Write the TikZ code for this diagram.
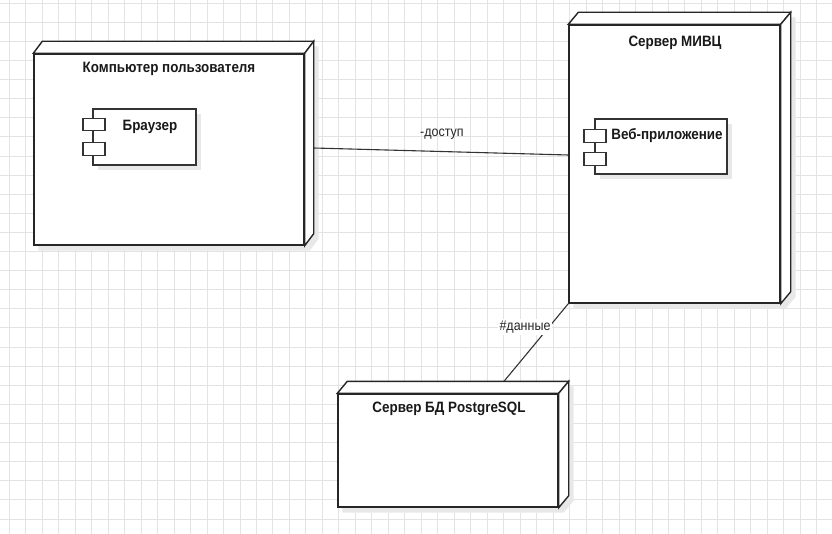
\documentclass[tikz,border=0pt]{standalone}
\usepackage{fontspec}
\setmainfont{Liberation Sans}
\usetikzlibrary{backgrounds,shadows}
\newcommand\talltext[1]{\scalebox{1}[1.12]{#1}}
\begin{document}
\begin{tikzpicture}[x=1pt,y=-1pt,
  gridline/.style={draw=black!11, line width=1pt},
  shadowfill/.style={fill=black!9},
  front/.style={draw=black!85, line width=1.4pt, fill=white, inner sep=0pt, rectangle, line join=miter},
  face/.style={draw=black!85, line width=1.4pt, fill=white, line join=miter},
  comp/.style={draw=black!80, line width=1.1pt, fill=white, inner sep=0pt, rectangle,
    drop shadow={shadow xshift=5pt, shadow yshift=-5pt, fill=black!9, opacity=1}},
  port/.style={draw=black!80, line width=1.1pt, fill=white, inner sep=0pt, rectangle, minimum width=22pt, minimum height=12.5pt},
  title/.style={font=\bfseries\fontsize{13.4}{16}\selectfont, inner sep=0pt, text=black!90},
  link/.style={draw=black!80, line width=1.1pt},
  linklabel/.style={font=\fontsize{12.5}{15}\selectfont, inner sep=1.5pt, text=black!85}
]
\useasboundingbox (0,0) rectangle (832,534);

% nodes (front faces)
\node[front, minimum width=270pt, minimum height=191pt] (pc) at (169,149.5) {};
\node[front, minimum width=211pt, minimum height=278pt] (srv) at (674.5,164) {};
\node[front, minimum width=220pt, minimum height=113pt] (db) at (448,450.5) {};

\begin{pgfonlayer}{background}
  \fill[white] (0,0) rectangle (832,534);
  \foreach \i in {0,...,49} \draw[gridline] ({9.3+16.48*\i},0) -- ({9.3+16.48*\i},534);
  \foreach \j in {0,...,27} \draw[gridline] (0,{3.3+19.1*\j}) -- (832,{3.3+19.1*\j});
  \foreach \n/\dx/\dy in {pc/9/12, srv/10/12, db/10/12} {
    \fill[shadowfill] ([shift={(5,5)}]\n.south west) -- ([shift={(5,5)}]\n.north west)
      -- ([shift={(5+\dx,5-\dy)}]\n.north west) -- ([shift={(5+\dx,5-\dy)}]\n.north east)
      -- ([shift={(5+\dx,5-\dy)}]\n.south east) -- ([shift={(5,5)}]\n.south east) -- cycle;
  }
\end{pgfonlayer}

% 3D faces
\foreach \n/\dx/\dy in {pc/9/12, srv/10/12, db/10/12} {
  \filldraw[face] (\n.north west) -- ([shift={(\dx,-\dy)}]\n.north west)
    -- ([shift={(\dx,-\dy)}]\n.north east) -- (\n.north east) -- cycle;
  \filldraw[face] (\n.north east) -- ([shift={(\dx,-\dy)}]\n.north east)
    -- ([shift={(\dx,-\dy)}]\n.south east) -- (\n.south east) -- cycle;
}

% titles
\node[title] (pc-title) at (169,69) {\talltext{Компьютер пользователя}};
\node[title] (srv-title) at (675,43) {\talltext{Сервер МИВЦ}};
\node[title] (db-title) at (449,409) {\talltext{Сервер БД PostgreSQL}};

% components
\node[comp, minimum width=103pt, minimum height=56pt] (browser) at (144.5,137) {};
\node[port] (browser-p1) at (94,124.5) {};
\node[port] (browser-p2) at (94,149) {};
\node[title] (browser-label) at (150,127) {\talltext{Браузер}};

\node[comp, minimum width=132pt, minimum height=55pt] (webapp) at (661,146.5) {};
\node[port] (webapp-p1) at (595,136) {};
\node[port] (webapp-p2) at (595,159) {};
\node[title] (webapp-label) at (667,136) {\talltext{Веб-приложение}};

% connectors
\draw[link] ([xshift=9pt,yshift=1.5pt]pc.east) -- ([yshift=9pt]srv.west);
\node[linklabel] (lbl-access) at (442,134) {\talltext{-доступ}};
\draw[link] (srv.south west) -- ([shift={(56,-12)}]db.north);
\node[linklabel, fill=white] (lbl-data) at (525,327) {\talltext{\#данные}};
\end{tikzpicture}
\end{document}
